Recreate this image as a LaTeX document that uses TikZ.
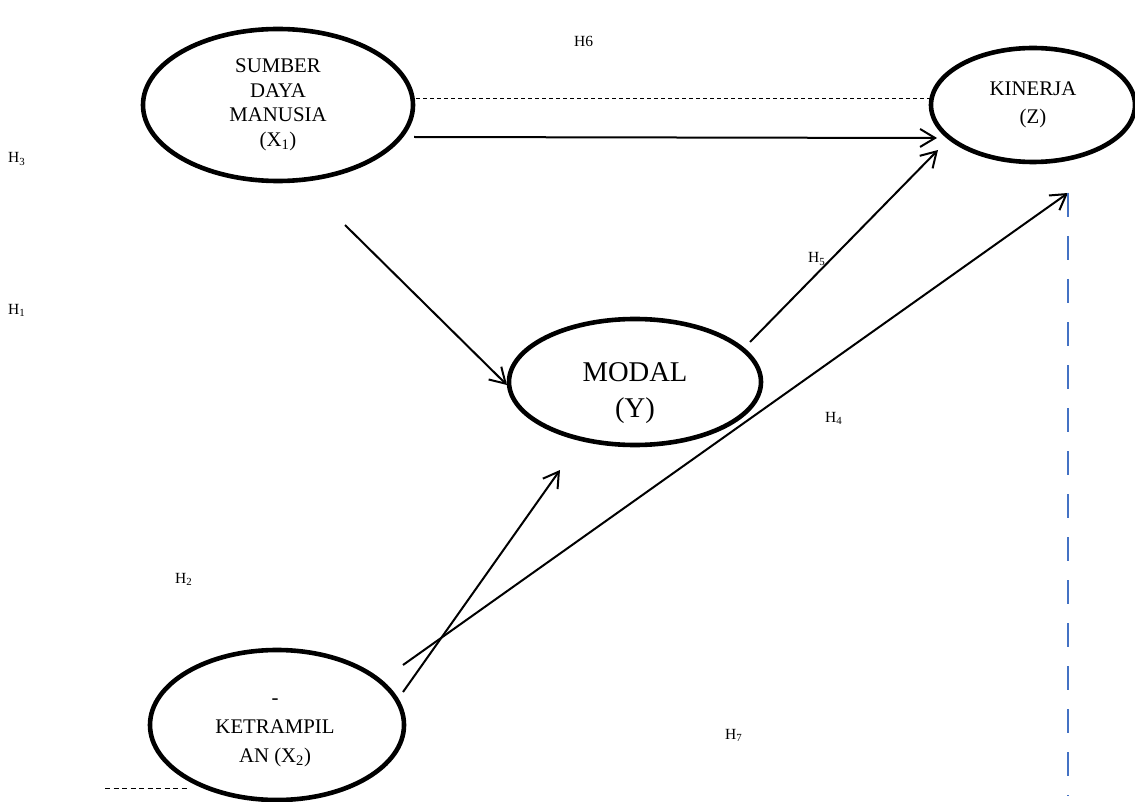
\documentclass[tikz,border=0pt]{standalone}
\usepackage{fontspec}
\setmainfont{Liberation Serif}
\usetikzlibrary{arrows.meta,shapes.geometric,calc}
\definecolor{dashblue}{RGB}{68,114,196}
\begin{document}
\begin{tikzpicture}[x=1pt,y=-1pt,
  latent/.style={ellipse,draw,line width=4.6pt,inner sep=0pt,align=center,
    font=\fontsize{20.8}{24.5}\selectfont},
  txt/.style={inner sep=0pt,align=center},
  arr/.style={line width=2pt,-{Straight Barb[length=15pt,width=18pt,line width=2pt]}},
  thindash/.style={line width=0.9pt,dash pattern=on 4pt off 3pt},
  bluedash/.style={line width=1.7pt,draw=dashblue,dash pattern=on 24pt off 19pt},
  hlab/.style={anchor=base west,inner sep=0pt,font=\fontsize{15.5}{18}\selectfont}]
\useasboundingbox (0,0) rectangle (1135,802);

% latent variables
\node[latent,minimum width=270pt,minimum height=152pt] (sdm) at (278,105)
  {SUMBER\\DAYA\\MANUSIA\\(X\textsubscript{1})};
\node[latent,minimum width=204pt,minimum height=114pt,
  font=\fontsize{20.8}{28}\selectfont] (kin) at (1033,105) {KINERJA\\(Z)};
\node[latent,minimum width=252pt,minimum height=126pt] (modal) at (635,382) {};
\node[txt,font=\fontsize{28.6}{36}\selectfont] (modaltxt) at (635,393) {MODAL\\(Y)};
\node[latent,minimum width=254pt,minimum height=150pt] (ket) at (277,725) {};
\node[txt,font=\fontsize{20.8}{29}\selectfont] (kettxt) at (275,732.5)
  {-\\KETRAMPIL\\AN (X\textsubscript{2})};

% free ends
\coordinate (vtop) at (1068,193);
\coordinate (vbot) at (1068,796);

% connectors
\draw[thindash] ($(sdm)+(138,-7)$) -- ($(kin)+(-103,-7)$);
\draw[arr] ($(sdm)+(136,32)$) -- ($(kin)+(-96,33)$);
\draw[arr] ($(sdm)+(67,120)$) -- ($(modal)+(-128,3)$);
\draw[arr] ($(modal)+(115,-40)$) -- ($(kin)+(-95,45)$);
\draw[arr] ($(ket)+(126,-60)$) -- (vtop);
\draw[arr] ($(ket)+(126,-33)$) -- ($(modal)+(-75,88)$);
\draw[bluedash] (vtop) -- (vbot);
\draw[thindash,dash pattern=on 5pt off 3.5pt] ($(ket)+(-172,63)$) -- ($(ket)+(-89,63)$);

% hypothesis labels
\node[hlab] (h6) at (574,47) {H6};
\node[hlab] (h3) at (8,163) {H\textsubscript{3}};
\node[hlab] (h1) at (8,314) {H\textsubscript{1}};
\node[hlab] (h5) at (808,263) {H\textsubscript{5}};
\node[hlab] (h4) at (825,422) {H\textsubscript{4}};
\node[hlab] (h2) at (175,583) {H\textsubscript{2}};
\node[hlab] (h7) at (725,739) {H\textsubscript{7}};
\end{tikzpicture}
\end{document}
